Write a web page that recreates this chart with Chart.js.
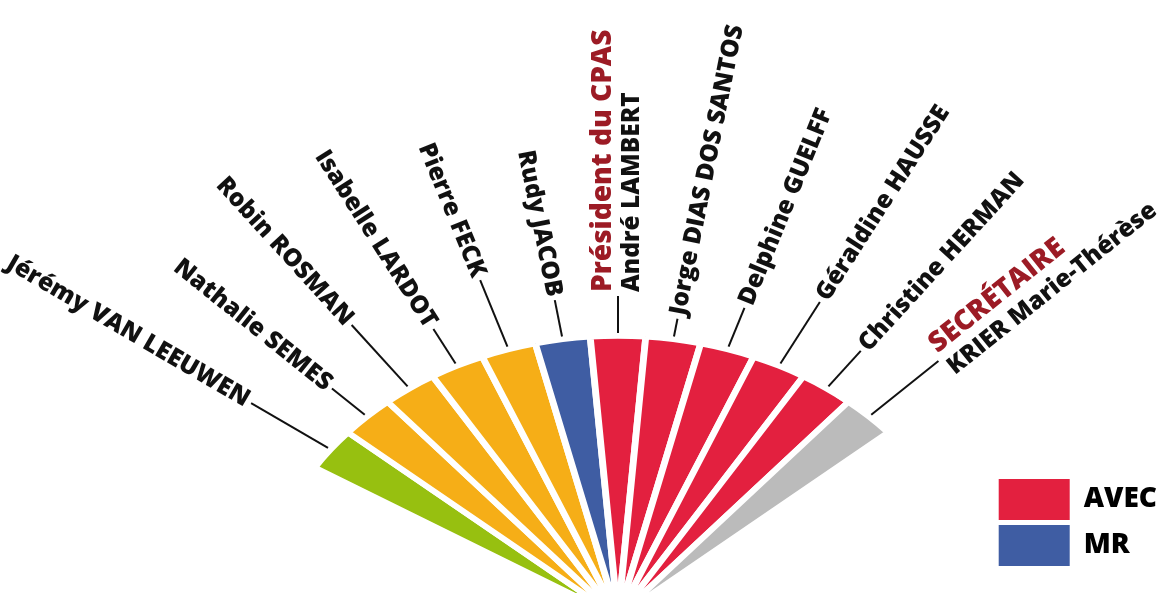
<!DOCTYPE html>
<html>
<head>
    <meta charset="utf-8">
    <script src="https://cdn.jsdelivr.net/npm/chart.js@4.4.1/dist/chart.umd.min.js"></script>
    <style>
        html, body { margin: 0; padding: 0; background: #fff; overflow: hidden; }
    </style>
</head>
<body>

    <canvas id="conseilChart" width="1160" height="593"></canvas>

    <script>
        // membres du conseil, de gauche à droite
        const members = ['Jérémy VAN LEEUWEN', 'Nathalie SEMES', 'Robin ROSMAN', 'Isabelle LARDOT', 'Pierre FECK', 'Rudy JACOB',
            'André LAMBERT', 'Jorge DIAS DOS SANTOS', 'Delphine GUELFF', 'Géraldine HAUSSE', 'Christine HERMAN', 'KRIER Marie-Thérèse'];
        const roles = ['', '', '', '', '', '', 'Président du CPAS', '', '', '', '', 'SECRÉTAIRE'];
        const groups = ['vert', 'orange', 'orange', 'orange', 'orange', 'MR', 'AVEC', 'AVEC', 'AVEC', 'AVEC', 'AVEC', 'gris'];
        const seats = [1, 1, 1, 1, 1, 1, 1, 1, 1, 1, 1, 1];
        const legendGroups = ['AVEC', 'MR'];

        const colors = {
            'vert': '#97c010',
            'orange': '#f6ae17',
            'MR': '#3f5da3',
            'AVEC': '#e3203f',
            'gris': '#bbbbbb'
        };

        // éventail vu en perspective : centre et demi-axes à l'écran
        const fan = { cx: 618, cy: 617, rx: 358, ry: 281, radius: 200 };
        const sliceDeg = 8.9;
        const leaderLengths = [89, 42, 83, 41, 72, 37, 37, 18, 42, 73, 48, 86];
        const nameFont = '800 24.5px "Open Sans"';
        const roleFont = '800 28px "Open Sans"';

        const perspectivePlugin = {
            id: 'perspective',
            beforeDatasetsDraw(chart) {
                const arc = chart.getDatasetMeta(0).data[0];
                const ctx = chart.ctx;
                ctx.save();
                ctx.translate(fan.cx, fan.cy);
                ctx.scale(fan.rx / arc.outerRadius, fan.ry / arc.outerRadius);
                ctx.translate(-arc.x, -arc.y);
            },
            afterDatasetsDraw(chart) {
                const ctx = chart.ctx;
                ctx.restore();

                chart.getDatasetMeta(0).data.forEach((arc, i) => {
                    const mid = (arc.startAngle + arc.endAngle) / 2;
                    const px = fan.cx + fan.rx * Math.cos(mid);
                    const py = fan.cy + fan.ry * Math.sin(mid);
                    const len = Math.hypot(px - fan.cx, py - fan.cy);
                    const ux = (px - fan.cx) / len;
                    const uy = (py - fan.cy) / len;

                    const d0 = 3;
                    const d1 = d0 + leaderLengths[i];
                    ctx.save();
                    ctx.strokeStyle = '#111';
                    ctx.lineWidth = 2;
                    ctx.beginPath();
                    ctx.moveTo(px + ux * d0, py + uy * d0);
                    ctx.lineTo(px + ux * d1, py + uy * d1);
                    ctx.stroke();

                    const ax = px + ux * (d1 + 4);
                    const ay = py + uy * (d1 + 4);
                    const leftSide = ux < -0.001;
                    ctx.translate(ax, ay);
                    if (leftSide) {
                        ctx.rotate(Math.atan2(-uy, -ux));
                        ctx.textAlign = 'right';
                    } else {
                        ctx.rotate(Math.atan2(uy, ux));
                        ctx.textAlign = 'left';
                    }
                    ctx.textBaseline = 'middle';
                    if (roles[i]) {
                        ctx.font = roleFont;
                        ctx.fillStyle = '#9c1b25';
                        ctx.fillText(roles[i], 0, -14.5);
                        ctx.font = nameFont;
                        ctx.fillStyle = '#111';
                        ctx.fillText(members[i], 0, 14.5);
                    } else {
                        ctx.font = nameFont;
                        ctx.fillStyle = '#111';
                        ctx.fillText(members[i], 0, 0);
                    }
                    ctx.restore();
                });
            }
        };

        const ctx = document.getElementById('conseilChart').getContext('2d');

        const conseilChart = new Chart(ctx, {
            type: 'doughnut',
            data: {
                labels: members,
                datasets: [{
                    data: seats,
                    backgroundColor: groups.map(g => colors[g]),
                    borderColor: '#ffffff',
                    borderWidth: 3.8,
                    borderJoinStyle: 'miter',
                    clip: false
                }]
            },
            options: {
                responsive: false,
                animation: false,
                cutout: 0,
                radius: fan.radius,
                rotation: -6.5 * sliceDeg,
                circumference: 12 * sliceDeg,
                layout: {
                    padding: { right: -7, bottom: 22 }
                },
                plugins: {
                    tooltip: { enabled: false },
                    legend: {
                        position: 'right',
                        align: 'end',
                        labels: {
                            boxWidth: 71,
                            boxHeight: 41,
                            padding: 5,
                            color: '#111',
                            font: { family: 'Open Sans', weight: 800, size: 28 },
                            generateLabels: () => legendGroups.map(g => ({
                                text: g,
                                fillStyle: colors[g],
                                strokeStyle: colors[g],
                                lineWidth: 0,
                                hidden: false
                            }))
                        }
                    }
                }
            },
            plugins: [perspectivePlugin]
        });
    </script>
</body>
</html>
